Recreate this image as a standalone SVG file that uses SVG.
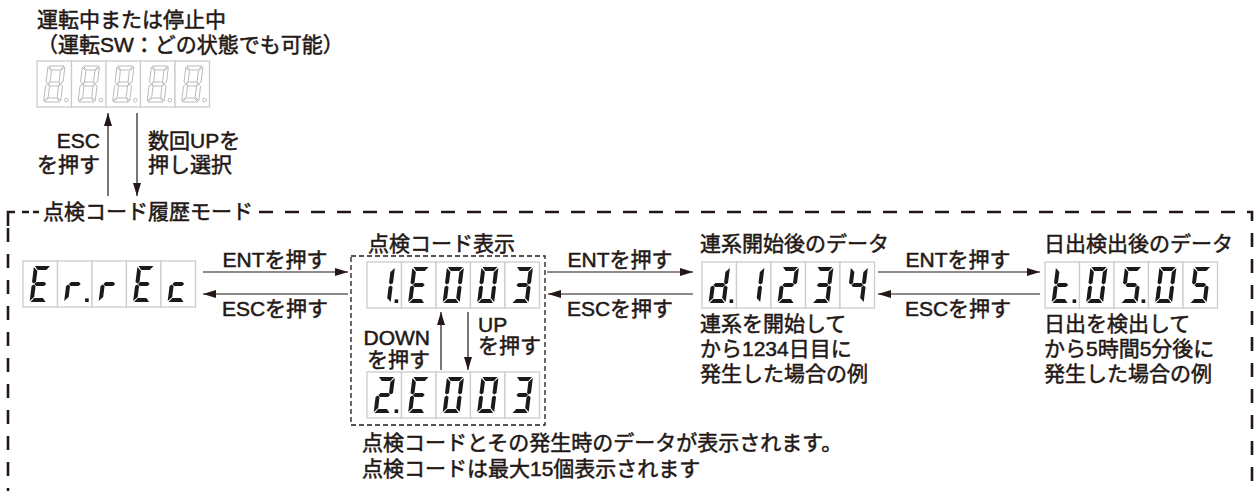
<svg xmlns="http://www.w3.org/2000/svg" xmlns:xlink="http://www.w3.org/1999/xlink" width="1256" height="491" viewBox="0 0 1256 491">
<style>
text{font-family:"Liberation Sans","Noto Sans CJK JP",sans-serif;font-size:21px;font-weight:400;fill:#231815;stroke:#231815;stroke-width:0.5}
.cell{fill:#fff;stroke:#cccccc;stroke-width:1.3}
.seg{fill:#1a1a1a}
.oseg{fill:none;stroke:#b4b4b4;stroke-width:0.9}
.ln{stroke:#231815;stroke-width:1.2;fill:none}
.frame{stroke:#231815;stroke-width:2.6;fill:none;stroke-dasharray:14 12}
.inner{stroke:#231815;stroke-width:1.3;fill:none;stroke-dasharray:5 3}
</style>
<defs>
<marker id="ah" viewBox="0 0 13 8" refX="13" refY="4" markerWidth="13" markerHeight="8" markerUnits="userSpaceOnUse" orient="auto">
<path d="M0,0 L13,4 L0,8 Z" fill="#231815"/>
</marker>
<polygon id="sa" points="1,0 16,0 12.8,4 4.2,4"/>
<polygon id="sb" points="17,1 17,16 15,17.6 13,16 13,5"/>
<polygon id="sc" points="17,20 17,35 13,31 13,20 15,18.4"/>
<polygon id="sd" points="4.2,32 12.8,32 16,36 1,36"/>
<polygon id="se" points="0,20 2,18.4 4,20 4,31 0,35"/>
<polygon id="sf" points="0,1 4,5 4,16 2,17.6 0,16"/>
<polygon id="sg" points="2.6,18 4.6,16 12.4,16 14.4,18 12.4,20 4.6,20"/>
<rect id="cellr" class="cell" x="0" y="0" width="34.5" height="46"/>
<rect id="dp" class="seg" x="27.6" y="37.4" width="3.6" height="3.6"/>
<g id="d8o" class="oseg"><g transform="translate(11,5) skewX(-7)"><use href="#sa"/><use href="#sb"/><use href="#sc"/><use href="#sd"/><use href="#se"/><use href="#sf"/><use href="#sg"/></g><circle cx="29.4" cy="39.2" r="1.8"/></g>
<g id="dE" class="seg" transform="translate(11,5) skewX(-7)"><use href="#sa"/><use href="#sd"/><use href="#se"/><use href="#sf"/><use href="#sg"/></g>
<g id="dr" class="seg" transform="translate(11,5) skewX(-7)"><use href="#se"/><use href="#sg"/></g>
<g id="dc" class="seg" transform="translate(11,5) skewX(-7)"><use href="#sd"/><use href="#se"/><use href="#sg"/></g>
<g id="d1" class="seg" transform="translate(11,5) skewX(-7)"><use href="#sb"/><use href="#sc"/></g>
<g id="d0" class="seg" transform="translate(11,5) skewX(-7)"><use href="#sa"/><use href="#sb"/><use href="#sc"/><use href="#sd"/><use href="#se"/><use href="#sf"/></g>
<g id="d2" class="seg" transform="translate(11,5) skewX(-7)"><use href="#sa"/><use href="#sb"/><use href="#sd"/><use href="#se"/><use href="#sg"/></g>
<g id="d3" class="seg" transform="translate(11,5) skewX(-7)"><use href="#sa"/><use href="#sb"/><use href="#sc"/><use href="#sd"/><use href="#sg"/></g>
<g id="d4" class="seg" transform="translate(11,5) skewX(-7)"><use href="#sb"/><use href="#sc"/><use href="#sf"/><use href="#sg"/></g>
<g id="d5" class="seg" transform="translate(11,5) skewX(-7)"><use href="#sa"/><use href="#sc"/><use href="#sd"/><use href="#sf"/><use href="#sg"/></g>
<g id="dd" class="seg" transform="translate(11,5) skewX(-7)"><use href="#sb"/><use href="#sc"/><use href="#sd"/><use href="#se"/><use href="#sg"/></g>
<g id="dt" class="seg" transform="translate(11,5) skewX(-7)"><use href="#sd"/><use href="#se"/><use href="#sf"/><use href="#sg"/></g>
<g id="cells5"><use href="#cellr" x="0"/><use href="#cellr" x="34.5"/><use href="#cellr" x="69"/><use href="#cellr" x="103.5"/><use href="#cellr" x="138"/></g>
</defs>
<rect width="1256" height="491" fill="#fff"/>

<g id="frame">
<path class="ln" d="M8,226 V212 H15 M22,212 H29 M33,212 H39" style="stroke-width:2.6"/>
<path class="frame" d="M8,228 V491"/>
<path class="frame" d="M259,212 H1252 V491"/>
<text x="43" y="219">点検コード履歴モード</text>
</g>

<g id="top-state">
<text x="37" y="27">運転中または停止中</text>
<text x="37" y="52">（運転SW：どの状態でも可能）</text>
<g transform="translate(37,61)">
<use href="#cells5"/>
<use href="#d8o" x="0"/><use href="#d8o" x="34.5"/><use href="#d8o" x="69"/><use href="#d8o" x="103.5"/><use href="#d8o" x="138"/>
</g>
</g>

<g id="errec">
<g transform="translate(23,261)">
<use href="#cells5"/>
<use href="#dE" x="0"/>
<use href="#dr" x="34.5"/><use href="#dp" x="34.5"/>
<use href="#dr" x="69"/>
<use href="#dE" x="103.5"/>
<use href="#dc" x="138"/>
</g>
</g>

<g id="code-group">
<rect class="inner" x="351" y="256" width="194" height="169"/>
<text x="368" y="251">点検コード表示</text>
</g>

<g id="code1">
<g transform="translate(367,262)">
<use href="#cells5"/>
<use href="#d1" x="0"/><use href="#dp" x="0"/>
<use href="#dE" x="34.5"/>
<use href="#d0" x="69"/>
<use href="#d0" x="103.5"/>
<use href="#d3" x="138"/>
</g>
</g>

<g id="code2">
<g transform="translate(367,372)">
<use href="#cells5"/>
<use href="#d2" x="0"/><use href="#dp" x="0"/>
<use href="#dE" x="34.5"/>
<use href="#d0" x="69"/>
<use href="#d0" x="103.5"/>
<use href="#d3" x="138"/>
</g>
</g>

<g id="data1">
<text x="700" y="251">連系開始後のデータ</text>
<g transform="translate(702,262)">
<use href="#cells5"/>
<use href="#dd" x="0"/><use href="#dp" x="0"/>
<use href="#d1" x="34.5"/>
<use href="#d2" x="69"/>
<use href="#d3" x="103.5"/>
<use href="#d4" x="138"/>
</g>
<text x="700" y="331">連系を開始して</text>
<text x="700" y="356">から1234日目に</text>
<text x="700" y="381">発生した場合の例</text>
</g>

<g id="data2">
<text x="1044" y="251">日出検出後のデータ</text>
<g transform="translate(1045,262)">
<use href="#cells5"/>
<use href="#dt" x="0"/><use href="#dp" x="0"/>
<use href="#d0" x="34.5"/>
<use href="#d5" x="69"/><use href="#dp" x="69"/>
<use href="#d0" x="103.5"/>
<use href="#d5" x="138"/>
</g>
<text x="1044" y="331">日出を検出して</text>
<text x="1044" y="356">から5時間5分後に</text>
<text x="1044" y="381">発生した場合の例</text>
</g>

<g id="note">
<text x="362" y="450">点検コードとその発生時のデータが表示されます。</text>
<text x="362" y="476">点検コードは最大15個表示されます</text>
</g>

<g id="connectors">
<line class="ln" x1="108" y1="196" x2="108" y2="113" marker-end="url(#ah)"/>
<line class="ln" x1="137" y1="113" x2="137" y2="196" marker-end="url(#ah)"/>
<line class="ln" x1="203" y1="272" x2="348" y2="272" marker-end="url(#ah)"/>
<line class="ln" x1="348" y1="294" x2="203" y2="294" marker-end="url(#ah)"/>
<line class="ln" x1="547" y1="272" x2="693" y2="272" marker-end="url(#ah)"/>
<line class="ln" x1="693" y1="294" x2="548" y2="294" marker-end="url(#ah)"/>
<line class="ln" x1="878" y1="272" x2="1040" y2="272" marker-end="url(#ah)"/>
<line class="ln" x1="1040" y1="294" x2="878" y2="294" marker-end="url(#ah)"/>
<line class="ln" x1="441" y1="370" x2="441" y2="312" marker-end="url(#ah)"/>
<line class="ln" x1="468" y1="312" x2="468" y2="370" marker-end="url(#ah)"/>
</g>

<g id="labels">
<text x="100" y="148" text-anchor="end">ESC</text>
<text x="100" y="172" text-anchor="end">を押す</text>
<text x="148" y="148">数回UPを</text>
<text x="148" y="172">押し選択</text>
<text x="275" y="267" text-anchor="middle">ENTを押す</text>
<text x="275" y="316" text-anchor="middle">ESCを押す</text>
<text x="620" y="267" text-anchor="middle">ENTを押す</text>
<text x="620" y="316" text-anchor="middle">ESCを押す</text>
<text x="958" y="267" text-anchor="middle">ENTを押す</text>
<text x="958" y="316" text-anchor="middle">ESCを押す</text>
<text x="430" y="345" text-anchor="end">DOWN</text>
<text x="430" y="367" text-anchor="end">を押す</text>
<text x="478" y="332">UP</text>
<text x="478" y="353">を押す</text>
</g>
</svg>
